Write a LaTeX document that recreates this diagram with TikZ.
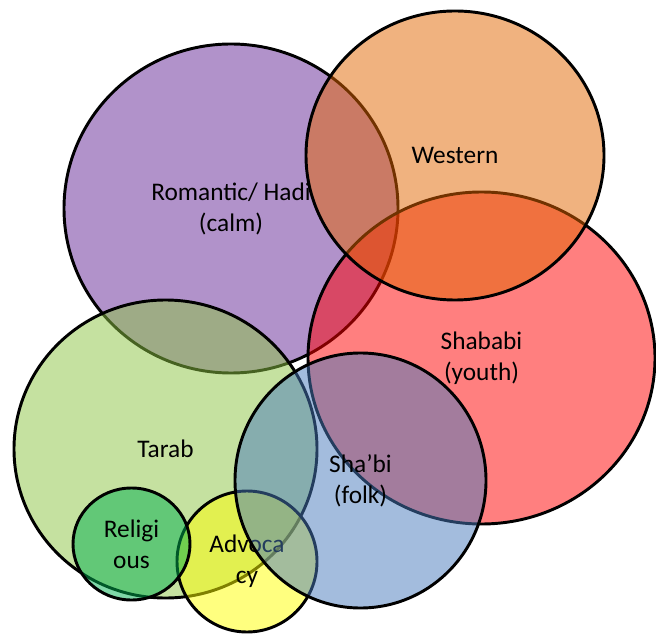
\documentclass[tikz,border=0pt]{standalone}
\usepackage{fontspec}
\setmainfont{Carlito}
\usetikzlibrary{shapes.geometric}
\definecolor{cPurple}{RGB}{100,37,150}
\definecolor{cOrange}{RGB}{226,101,0}
\definecolor{cRed}{RGB}{255,0,0}
\definecolor{cGreen}{RGB}{140,196,66}
\definecolor{cBlue}{RGB}{72,122,188}
\definecolor{cYellow}{RGB}{255,255,0}
\definecolor{cRelig}{RGB}{0,176,80}
\tikzset{
  setcircle/.style={ellipse, draw=black, line width=2.2pt, fill opacity=0.5, text opacity=1,
    inner sep=0pt, align=center, font=\fontsize{19}{23.3}\selectfont}
}
\begin{document}
\begin{tikzpicture}[x=0.75pt,y=-0.75pt]
\useasboundingbox (0,0) rectangle (656,634);
\node[setcircle, fill=cPurple, minimum width=250.5pt, minimum height=246.75pt] (romantic) at (231,208.5) {Romantic/ Hadi\\(calm)};
\node[setcircle, fill=cRed, minimum width=260.25pt, minimum height=249pt] (shababi) at (481.5,358) {Shababi\\(youth)};
\node[setcircle, fill=cOrange, minimum width=223.5pt, minimum height=216.75pt] (western) at (455,155.5) {Western};
\node[setcircle, fill=cGreen, minimum width=227.25pt, minimum height=223.5pt] (tarab) at (165.5,449) {Tarab};
\node[setcircle, fill=cYellow, minimum width=105pt, minimum height=105.75pt] (advocacy) at (247,561.5) {Advoca\\cy};
\node[setcircle, fill=cRelig, minimum width=87.75pt, minimum height=84pt] (religious) at (131.5,544) {Religi\\ous};
\node[setcircle, fill=cBlue, minimum width=188.25pt, minimum height=191.25pt] (shabi) at (360.5,480.5) {Sha’bi\\(folk)};
\end{tikzpicture}
\end{document}
